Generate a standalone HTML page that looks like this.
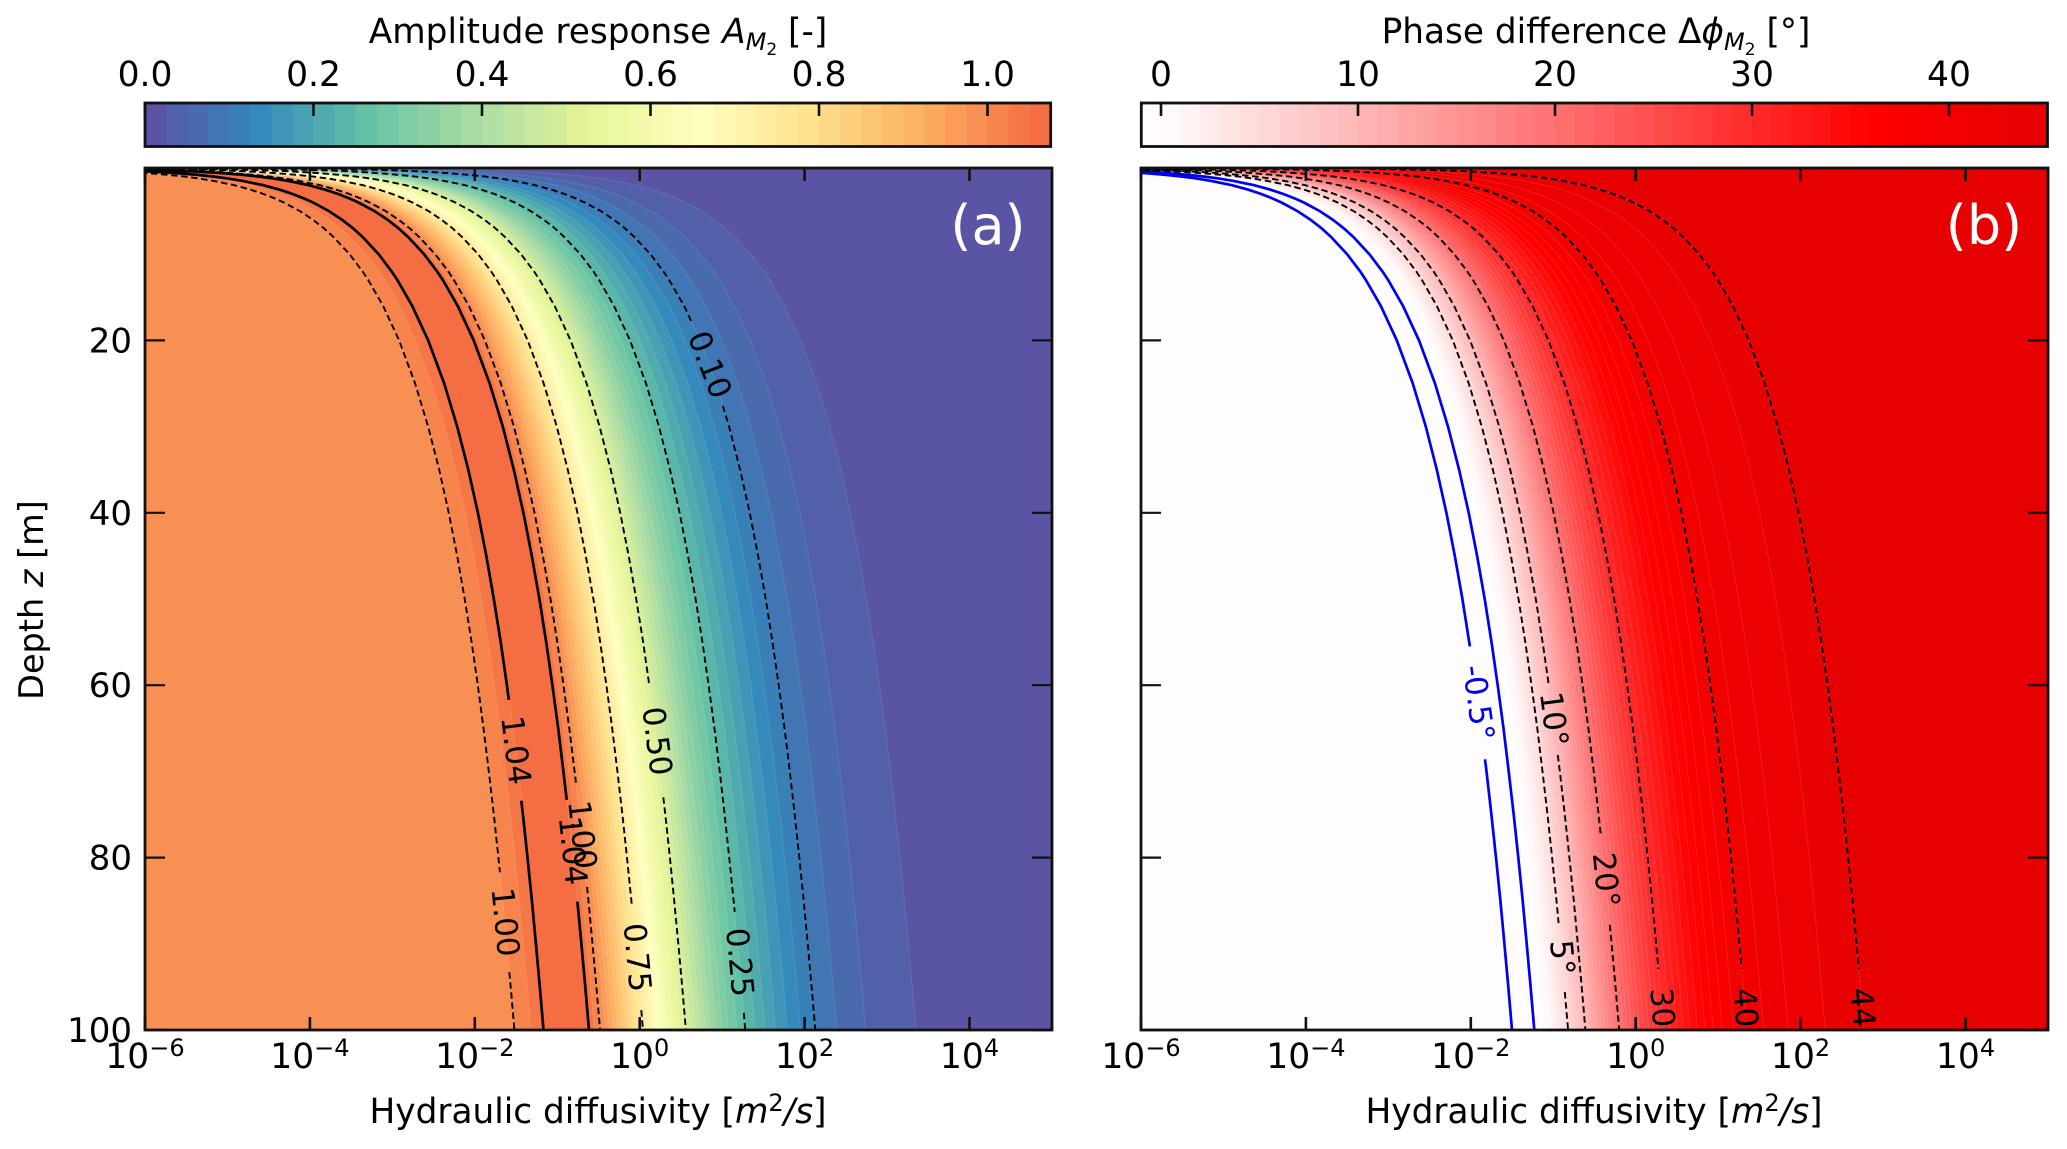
<!DOCTYPE html>
<html lang="en">
<head>
<meta charset="utf-8">
<title>Amplitude response and phase difference vs hydraulic diffusivity and depth</title>
<style>
html,body{margin:0;padding:0;background:#fff;}
svg{display:block;}
text{font-family:"DejaVu Sans","Liberation Sans",sans-serif;fill:#000;}
</style>
</head>
<body>
<svg id="figure" xmlns="http://www.w3.org/2000/svg" width="2067" height="1149" viewBox="0 0 2067 1149">
  <defs>
    <clipPath id="clip-a"><rect x="145" y="168" width="907" height="862"/></clipPath>
    <clipPath id="clip-b"><rect x="1141" y="168" width="907" height="862"/></clipPath>
  </defs>
  <g id="colorbar-a"></g>
  <g id="colorbar-b"></g>
  <g id="fills-a" clip-path="url(#clip-a)"></g>
  <g id="fills-b" clip-path="url(#clip-b)"></g>
  <g id="lines-a" clip-path="url(#clip-a)"></g>
  <g id="lines-b" clip-path="url(#clip-b)"></g>
  <g id="axes-a"></g>
  <g id="axes-b"></g>

  <text x="598" y="43" font-size="34.3" text-anchor="middle">Amplitude response <tspan font-style="italic">A</tspan><tspan font-style="italic" font-size="24" dy="7">M</tspan><tspan font-size="17" dy="5">2</tspan><tspan dy="-12"> [-]</tspan></text>
  <text x="1596" y="43" font-size="34.3" text-anchor="middle">Phase difference Δ<tspan font-style="italic">ϕ</tspan><tspan font-style="italic" font-size="24" dy="7">M</tspan><tspan font-size="17" dy="5">2</tspan><tspan dy="-12"> [°]</tspan></text>
  <text x="598" y="1123" font-size="34.3" text-anchor="middle">Hydraulic diffusivity [<tspan font-style="italic">m</tspan><tspan font-size="24" dy="-12">2</tspan><tspan font-style="italic" dy="12">/s</tspan>]</text>
  <text x="1594" y="1123" font-size="34.3" text-anchor="middle">Hydraulic diffusivity [<tspan font-style="italic">m</tspan><tspan font-size="24" dy="-12">2</tspan><tspan font-style="italic" dy="12">/s</tspan>]</text>
  <text x="43" y="600" font-size="33.5" text-anchor="middle" transform="rotate(-90 43 600)">Depth <tspan font-style="italic">z</tspan> [m]</text>
  <text x="988" y="244" font-size="54" text-anchor="middle" style="fill:#fff">(a)</text>
  <text x="1984" y="244" font-size="54" text-anchor="middle" style="fill:#fff">(b)</text>
</svg>
<script>
// ---- shared contour shape: depth (m) and log10 diffusivity relative to the value at 100 m ----
const depthSamples = [0.1,0.2,0.3,0.4,0.5,0.6,0.8,1,1.2,1.5,2,2.5,3,3.5,4,5,6,7,8,10,12,13,16,20,25,30,35,40,45,50,55,60,65,70,75,80,85,90,95,100];
const shapeLogOffset = [-6,-5.398,-5.046,-4.796,-4.602,-4.444,-4.194,-4,-3.842,-3.648,-3.398,-3.204,-3.046,-2.912,-2.796,-2.602,-2.444,-2.31,-2.194,-2,-1.842,-1.772,-1.592,-1.398,-1.204,-1.046,-0.912,-0.796,-0.694,-0.602,-0.519,-0.444,-0.374,-0.31,-0.25,-0.194,-0.141,-0.092,-0.045,0];

// ---- axis ticks ----
const xTickLog = [-6,-4,-2,0,2,4];
const xTickLabels = ['−6','−4','−2','0','2','4'];
const yTicks = [20,40,60,80,100];
const yTickLabels = ['20','40','60','80','100'];

// ---- amplitude panel (a) ----
const ampColorbarLevels = [0,0.025,0.05,0.075,0.1,0.125,0.15,0.175,0.2,0.225,0.25,0.275,0.3,0.325,0.35,0.375,0.4,0.425,0.45,0.475,0.5,0.525,0.55,0.575,0.6,0.625,0.65,0.675,0.7,0.725,0.75,0.775,0.8,0.825,0.85,0.875,0.9,0.925,0.95,0.975,1,1.025,1.05,1.075];
const ampColorbarTicks = [0,0.2,0.4,0.6,0.8,1];
const ampColorbarTickLabels = ['0.0','0.2','0.4','0.6','0.8','1.0'];
// Band edges, right to left: log10 D at 100 m, and the colorbar band lying left of each edge
const ampEdgeLogD = [3.35,2.74,2.39,2.13,1.95,1.79,1.65,1.52,1.4,1.28,1.18,1.08,1,0.93,0.86,0.8,0.74,0.68,0.62,0.56,0.5,0.44,0.39,0.34,0.29,0.24,0.19,0.14,0.09,0.04,-0.015,-0.07,-0.12,-0.17,-0.22,-0.27,-0.32,-0.37,-0.42,-0.48,-0.55,-0.615,-1.16,-1.32,-1.52];
const ampEdgeLeftBand = [1,2,3,4,5,6,7,8,9,10,11,12,13,14,15,16,17,18,19,20,21,22,23,24,25,26,27,28,29,30,31,32,33,34,35,36,37,38,39,40,41,42,41,40,39];
const ampContourLevel = [1.00,1.04,1.04,1.00,0.75,0.50,0.25,0.10];
const ampContourLogD = [-1.52,-1.167,-0.615,-0.48,0.04,0.56,1.28,2.13];
const ampLabelGapStart = [81.7,61.7,73.3,71.3,85.5,60,86.3,18.1];
const ampLabelGapEnd = [93.3,73.4,85.1,83.4,97.7,73,98,27.6];

// ---- phase panel (b) ----
const phaseColorbarLevels = [-1,0,1,2,3,4,5,6,7,8,9,10,11,12,13,14,15,16,17,18,19,20,21,22,23,24,25,26,27,28,29,30,31,32,33,34,35,36,37,38,39,40,41,42,43,44,45];
const phaseColorbarTicks = [0,10,20,30,40];
const phaseColorbarTickLabels = ['0','10','20','30','40'];
// Band edges, right to left: degree level and log10 D at 100 m
const phaseEdgeLevel = [44,43,42,41,40,39,38,37,36,35,34,33,32,31,30,29,28,27,26,25,24,23,22,21,20,19,18,17,16,15,14,13,12,11,10,9,8,7,6,5,4,3,2,1,0];
const phaseEdgeLogD = [2.77,2.3,1.85,1.55,1.35,1.19,1.05,0.94,0.84,0.75,0.66,0.58,0.5,0.42,0.34,0.28,0.22,0.16,0.1,0.05,0,-0.05,-0.1,-0.15,-0.2,-0.25,-0.29,-0.33,-0.37,-0.41,-0.45,-0.49,-0.53,-0.57,-0.61,-0.65,-0.7,-0.74,-0.78,-0.82,-0.87,-0.92,-0.97,-1.02,-1.1];
const phaseContourLevel = [-0.5,0,5,10,20,30,40,44];
const phaseContourLogD = [-1.5,-1.23,-0.82,-0.61,-0.2,0.34,1.35,2.77];
const phaseLabelGapStart = [55.5,null,87.6,59.8,77.4,92.9,92.9,92.9];
const phaseLabelGapEnd = [68.6,null,95.6,68.1,87.8,103.7,103.7,103.7];

// ---- scales ----
const SVGNS = 'http://www.w3.org/2000/svg';
const AXIS_TOP = 168, AXIS_BOTTOM = 1030, CB_TOP = 103, CB_BOTTOM = 146.5;
const PANEL_A_LEFT = 145, PANEL_B_LEFT = 1141, PANEL_WIDTH = 907, DECADE = 82.45;
const xScaleA = v => PANEL_A_LEFT + (v + 6) * DECADE;
const xScaleB = v => PANEL_B_LEFT + (v + 6) * DECADE;
const yScale = z => AXIS_TOP + z * 8.62;
const cbScaleA = v => 145 + v * 842.5;
const cbScaleB = v => 1161 + v * 19.7;

function mk(tag, attrs, parent) {
  const node = document.createElementNS(SVGNS, tag);
  for (const k in attrs) node.setAttribute(k, attrs[k]);
  parent.appendChild(node);
  return node;
}
function rampColor(stops, v) {
  if (v <= stops[0][0]) return 'rgb(' + stops[0].slice(1).join(',') + ')';
  for (let i = 1; i < stops.length; i++) {
    if (v <= stops[i][0]) {
      const a = stops[i - 1], b = stops[i], t = (v - a[0]) / (b[0] - a[0]);
      return 'rgb(' + [1, 2, 3].map(c => Math.round(a[c] + (b[c] - a[c]) * t)).join(',') + ')';
    }
  }
  return 'rgb(' + stops[stops.length - 1].slice(1).join(',') + ')';
}
const ampStops = [[0,94,79,162],[0.132,50,136,189],[0.265,102,194,165],[0.397,171,221,164],[0.529,230,245,152],[0.661,255,255,191],[0.794,254,224,139],[0.926,253,174,97],[1.058,244,109,67]];
const phaseStops = [[0,255,252,253],[36,255,0,0],[45,228,0,0]];
const ampColor = v => rampColor(ampStops, v);
const phaseColor = v => rampColor(phaseStops, v);

function offsetAt(z) {
  for (let i = 1; i < depthSamples.length; i++) {
    if (z <= depthSamples[i]) {
      const t = (z - depthSamples[i - 1]) / (depthSamples[i] - depthSamples[i - 1]);
      return shapeLogOffset[i - 1] + (shapeLogOffset[i] - shapeLogOffset[i - 1]) * t;
    }
  }
  return shapeLogOffset[shapeLogOffset.length - 1];
}
function curvePoints(bottom, xScale, zFrom, zTo) {
  const pts = [];
  pts.push([xScale(bottom + offsetAt(zFrom)), yScale(zFrom)]);
  depthSamples.forEach((z, i) => {
    if (z > zFrom && z < zTo) pts.push([xScale(bottom + shapeLogOffset[i]), yScale(z)]);
  });
  pts.push([xScale(bottom + offsetAt(zTo)), yScale(zTo)]);
  return pts;
}
const toPath = pts => pts.map((p, i) => (i ? 'L' : 'M') + p[0].toFixed(1) + ' ' + p[1].toFixed(1)).join('');

// ---- colorbars ----
function drawColorbar(root, levels, scale, colorOf, ticks, labels, name) {
  for (let i = 0; i < levels.length - 1; i++) {
    const x0 = scale(levels[i]), x1 = scale(levels[i + 1]);
    const seg = mk('rect', {x: x0, y: CB_TOP, width: x1 - x0 + 0.4, height: CB_BOTTOM - CB_TOP, fill: colorOf((levels[i] + levels[i + 1]) / 2)}, root);
    
    
  }
  const x0 = scale(levels[0]), x1 = scale(levels[levels.length - 1]);
  const frame = mk('rect', {x: x0, y: CB_TOP, width: x1 - x0, height: CB_BOTTOM - CB_TOP, fill: 'none', stroke: '#111', 'stroke-width': 2.8}, root);
  
  
  ticks.forEach((t, i) => {
    const tick = mk('line', {x1: scale(t), x2: scale(t), y1: CB_TOP, y2: CB_TOP + 13, stroke: '#111', 'stroke-width': 2.6}, root);
    
    
    const label = mk('text', {x: scale(t), y: 86, 'font-size': 34.5, 'text-anchor': 'middle'}, root);
    label.textContent = labels[i];
    
    
  });
}
drawColorbar(document.getElementById('colorbar-a'), ampColorbarLevels, cbScaleA, ampColor, ampColorbarTicks, ampColorbarTickLabels, 'amplitude-colorbar');
drawColorbar(document.getElementById('colorbar-b'), phaseColorbarLevels, cbScaleB, phaseColor, phaseColorbarTicks, phaseColorbarTickLabels, 'phase-colorbar');

// ---- filled contours (painted right to left, each band covers everything to its left) ----
function fillLeftOf(root, bottom, xScale, color, name) {
  const far = xScale(-30);
  const pts = curvePoints(bottom, xScale, depthSamples[0], 100);
  const d = 'M' + far + ' ' + (AXIS_TOP - 5) + 'L' + pts[0][0].toFixed(1) + ' ' + (AXIS_TOP - 5) + toPath(pts).replace('M', 'L') + 'L' + far + ' ' + (AXIS_BOTTOM + 5) + 'Z';
  const band = mk('path', {d: d, fill: color, stroke: 'rgba(255,255,255,0.13)', 'stroke-width': 0.8}, root);
  
  
}
const fillsA = document.getElementById('fills-a');
const baseA = mk('rect', {x: PANEL_A_LEFT, y: AXIS_TOP, width: PANEL_WIDTH, height: AXIS_BOTTOM - AXIS_TOP, fill: ampColor(0.0125)}, fillsA);


ampEdgeLogD.forEach((logD, i) => {
  const b = ampEdgeLeftBand[i];
  const mid = (ampColorbarLevels[b] + ampColorbarLevels[b + 1]) / 2;
  fillLeftOf(fillsA, logD, xScaleA, ampColor(mid), 'amplitude-band');
});
const fillsB = document.getElementById('fills-b');
const baseB = mk('rect', {x: PANEL_B_LEFT, y: AXIS_TOP, width: PANEL_WIDTH, height: AXIS_BOTTOM - AXIS_TOP, fill: phaseColor(44.5)}, fillsB);


phaseEdgeLogD.forEach((logD, i) => {
  fillLeftOf(fillsB, logD, xScaleB, phaseColor(phaseEdgeLevel[i] - 0.5), 'phase-band');
});

// ---- contour lines and inline labels ----
function drawContour(root, xScale, bottom, gapStart, gapEnd, solid, color, text, name) {
  const segs = [];
  if (gapStart === null) {
    segs.push(curvePoints(bottom, xScale, depthSamples[0], 100));
  } else {
    segs.push(curvePoints(bottom, xScale, depthSamples[0], gapStart));
    if (gapEnd < 100) segs.push(curvePoints(bottom, xScale, gapEnd, 100));
  }
  const line = mk('path', {d: segs.map(toPath).join(''), fill: 'none', stroke: color, 'stroke-width': solid ? 2.7 : 1.9, 'stroke-dasharray': solid ? 'none' : '6.5 3.6'}, root);
  
  
  if (gapStart !== null && text) {
    const zm = (gapStart + gapEnd) / 2;
    const lx = xScale(bottom + offsetAt(zm)), ly = yScale(zm);
    const ax = xScale(bottom + offsetAt(zm - 4)), ay = yScale(zm - 4);
    const bx = xScale(bottom + offsetAt(zm + 2)), by = yScale(zm + 2);
    const angle = Math.atan2(by - ay, bx - ax) * 180 / Math.PI;
    const label = mk('text', {x: lx, y: ly, 'font-size': 31, 'text-anchor': 'middle', 'dominant-baseline': 'central', transform: 'rotate(' + angle.toFixed(1) + ' ' + lx.toFixed(1) + ' ' + ly.toFixed(1) + ')', style: 'fill:' + color}, root);
    label.textContent = text;
    
    
  }
}
const linesA = document.getElementById('lines-a');
ampContourLevel.forEach((level, i) => {
  drawContour(linesA, xScaleA, ampContourLogD[i], ampLabelGapStart[i], ampLabelGapEnd[i], level > 1.01, '#000', level.toFixed(2), 'amplitude-contour');
});
const linesB = document.getElementById('lines-b');
phaseContourLevel.forEach((level, i) => {
  drawContour(linesB, xScaleB, phaseContourLogD[i], phaseLabelGapStart[i], phaseLabelGapEnd[i], level <= 0, level <= 0 ? '#0000f0' : '#000', level === 0 ? '' : level + '°', 'phase-contour');
});

// ---- axes ----
function drawAxes(root, left, xScale, showYLabels, name) {
  const right = left + PANEL_WIDTH;
  const frame = mk('rect', {x: left, y: AXIS_TOP, width: PANEL_WIDTH, height: AXIS_BOTTOM - AXIS_TOP, fill: 'none', stroke: '#111', 'stroke-width': 2.8}, root);
  
  
  xTickLog.forEach((v, i) => {
    const x = xScale(v);
    const top = mk('line', {x1: x, x2: x, y1: AXIS_TOP, y2: AXIS_TOP + 13, stroke: '#111', 'stroke-width': 2.6}, root);
    
    
    const bottom = mk('line', {x1: x, x2: x, y1: AXIS_BOTTOM, y2: AXIS_BOTTOM - 13, stroke: '#111', 'stroke-width': 2.6}, root);
    
    
    const label = mk('text', {x: x, y: 1068, 'font-size': 34.5, 'text-anchor': 'middle'}, root);
    
    
    const base = mk('tspan', {}, label);
    base.textContent = '10';
    const sup = mk('tspan', {'font-size': 24, dy: -12}, label);
    sup.textContent = xTickLabels[i];
  });
  yTicks.forEach((z, i) => {
    const y = yScale(z);
    const l = mk('line', {x1: left, x2: left + 20, y1: y, y2: y, stroke: '#111', 'stroke-width': 2.2}, root);
    
    
    const r = mk('line', {x1: right, x2: right - 20, y1: y, y2: y, stroke: '#111', 'stroke-width': 2.2}, root);
    
    
    if (showYLabels) {
      const label = mk('text', {x: 132, y: y + 12, 'font-size': 34, 'text-anchor': 'end'}, root);
      label.textContent = yTickLabels[i];
      
      
    }
  });
}
drawAxes(document.getElementById('axes-a'), PANEL_A_LEFT, xScaleA, true, 'amplitude-axis');
drawAxes(document.getElementById('axes-b'), PANEL_B_LEFT, xScaleB, false, 'phase-axis');
</script>
</body>
</html>
